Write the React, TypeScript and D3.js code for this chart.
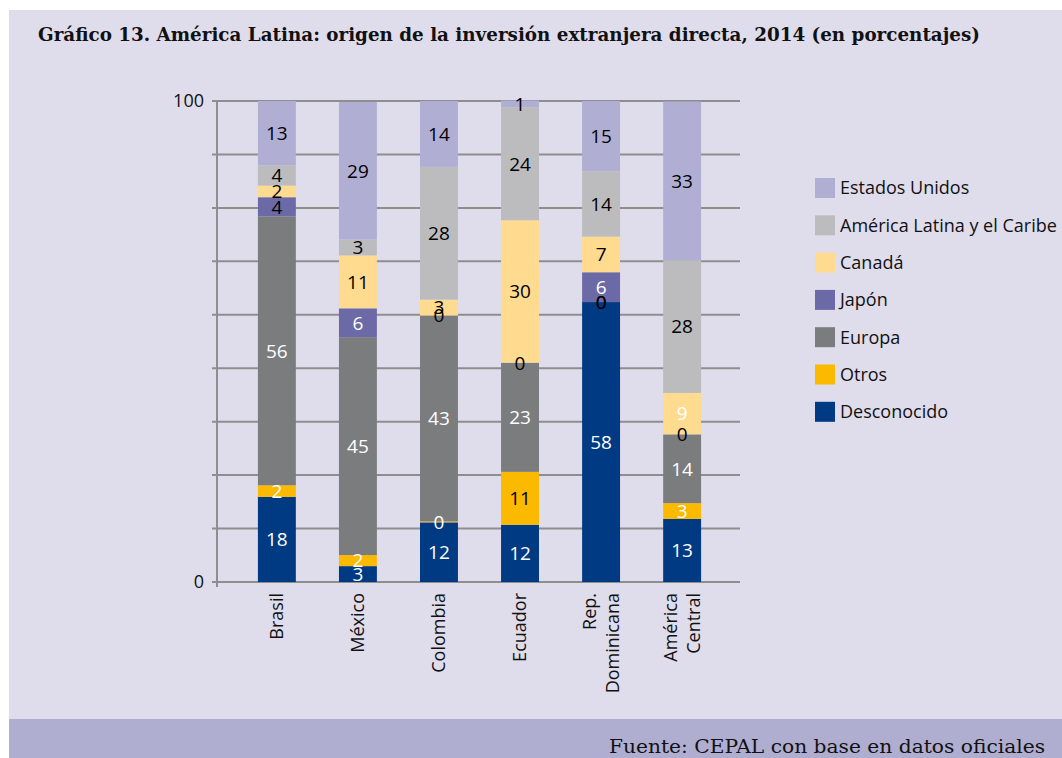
import React from 'react';
import * as d3 from 'd3';

// categories (bottom to top in each bar)
const countries = ['Brasil', 'México', 'Colombia', 'Ecuador', 'Rep. Dominicana', 'América Central'];
const seriesNames = ['Desconocido', 'Otros', 'Europa', 'Japón', 'Canadá', 'América Latina y el Caribe', 'Estados Unidos'];

const desconocido = [17.7, 3.3, 12.4, 11.9, 58.2, 13.1];
const otros = [2.4, 2.3, 0.2, 11.0, 0, 3.3];
const europa = [55.9, 45.3, 42.8, 22.7, 0, 14.3];
const japon = [4.0, 6.0, 0, 0, 6.2, 0];
const canada = [2.4, 11.0, 3.3, 29.6, 7.4, 8.6];
const alc = [4.2, 3.3, 27.6, 23.5, 13.6, 27.6];
const eeuu = [13.4, 28.6, 13.7, 1.4, 14.6, 33.0];

const yTickLabels = [0, 100];

const COLORS: Record<string, string> = {
  'Desconocido': '#003a82',
  'Otros': '#fbb900',
  'Europa': '#7b7c7e',
  'Japón': '#6b6aa6',
  'Canadá': '#ffdb90',
  'América Latina y el Caribe': '#bcbcbe',
  'Estados Unidos': '#b0afd3',
};
// series whose labels are white by default
const WHITE_SERIES = ['Desconocido', 'Otros', 'Europa', 'Japón'];
// per-cell label colour exceptions
const LABEL_BLACK = ['Brasil|Japón', 'Ecuador|Otros'];
const LABEL_WHITE = ['América Central|Canadá'];

const W = 1062;
const H = 758;
const FONT = "'Open Sans', sans-serif";
const SERIF = "'DejaVu Serif', serif";

export default function App() {
  const seriesValues = [desconocido, otros, europa, japon, canada, alc, eeuu];
  const rows = countries.map((c, i) => {
    const r: any = { country: c };
    seriesNames.forEach((s, k) => { r[s] = seriesValues[k][i]; });
    return r;
  });
  const stacked = d3.stack().keys(seriesNames)(rows);

  const x = d3.scaleBand().domain(countries).range([219, 740]).paddingInner(0.532).paddingOuter(0.48);
  const y = d3.scaleLinear().domain([0, 100]).range([582, 101]);
  const grid = d3.range(0, 10).map((i) => (i * 100) / 9);

  const labelColor = (country: string, series: string, v: number) => {
    if (v === 0) return '#000';
    const key = `${country}|${series}`;
    if (LABEL_BLACK.includes(key)) return '#000';
    if (LABEL_WHITE.includes(key)) return '#fff';
    return WHITE_SERIES.includes(series) ? '#fff' : '#000';
  };

  const legendItems = [...seriesNames].reverse();

  return (
    <div style={{ position: 'absolute', left: 0, top: 0 }}>
      <svg width={W} height={H} viewBox={`0 0 ${W} ${H}`} style={{ display: 'block' }}>
        <rect x={0} y={0} width={W} height={H} fill="#fff" />
        <rect x={9} y={10} width={W - 9} height={H - 10} fill="#dfdcec" />
        <rect x={9} y={719} width={W - 9} height={H - 719} fill="#b0aed0" />

        <text x={38} y={41} fontFamily={SERIF} fontWeight="bold" fontSize={18}
          textLength={942} lengthAdjust="spacingAndGlyphs" fill="#111">
          Gráfico 13. América Latina: origen de la inversión extranjera directa, 2014 (en porcentajes)
        </text>

        {/* gridlines */}
        {grid.map((g, i) => (
          <line key={i} x1={212} x2={740} y1={y(g)} y2={y(g)} stroke="#8e8e8e" strokeWidth={2} />
        ))}
        <line x1={217} x2={217} y1={y(100) - 1} y2={587} stroke="#8e8e8e" strokeWidth={2} />

        {yTickLabels.map((t) => (
          <text key={t} x={204} y={y(t)} dy="0.35em" textAnchor="end"
            fontFamily={FONT} fontSize={18} fill="#111">{t}</text>
        ))}

        {/* bars */}
        {stacked.map((layer) => (
          <g key={layer.key} fill={COLORS[layer.key]}>
            {layer.map((d, i) => (
              <rect key={i} x={x(countries[i])} width={x.bandwidth()}
                y={y(d[1])} height={Math.max(0, y(d[0]) - y(d[1]))} />
            ))}
          </g>
        ))}

        {/* value labels */}
        {stacked.map((layer) => (
          <g key={layer.key + '-lbl'}>
            {layer.map((d, i) => {
              const v = d[1] - d[0];
              const c = countries[i];
              const raw = seriesValues[seriesNames.indexOf(layer.key)][i];
              return (
                <text key={i} x={(x(c) as number) + x.bandwidth() / 2} y={y((d[0] + d[1]) / 2)}
                  dy="0.36em" textAnchor="middle" fontFamily={FONT} fontSize={19}
                  fill={labelColor(c, layer.key, raw)}>
                  {d3.format('.0f')(v)}
                </text>
              );
            })}
          </g>
        ))}

        {/* category labels */}
        {countries.map((c) => {
          const cx = (x(c) as number) + x.bandwidth() / 2;
          const lines = c.split(' ');
          return (
            <text key={c} transform={`translate(${cx},593) rotate(-90)`} textAnchor="end"
              fontFamily={FONT} fontSize={18} fill="#111">
              {lines.map((l, k) => (
                <tspan key={k} x={0} dy={k === 0 ? `${0.35 - ((lines.length - 1) / 2) * 1.27}em` : '1.27em'}>{l}</tspan>
              ))}
            </text>
          );
        })}

        {/* legend */}
        {legendItems.map((s, i) => (
          <g key={s} transform={`translate(815,${178 + i * 37.3})`}>
            <rect width={20} height={20} fill={COLORS[s]} />
            <text x={25} y={10} dy="0.36em" fontFamily={FONT} fontSize={18} fill="#111">{s}</text>
          </g>
        ))}

        <text x={1045} y={753} textAnchor="end" fontFamily={SERIF} fontSize={19}
          textLength={436} lengthAdjust="spacingAndGlyphs" fill="#111">
          Fuente: CEPAL con base en datos oficiales
        </text>
      </svg>
    </div>
  );
}
